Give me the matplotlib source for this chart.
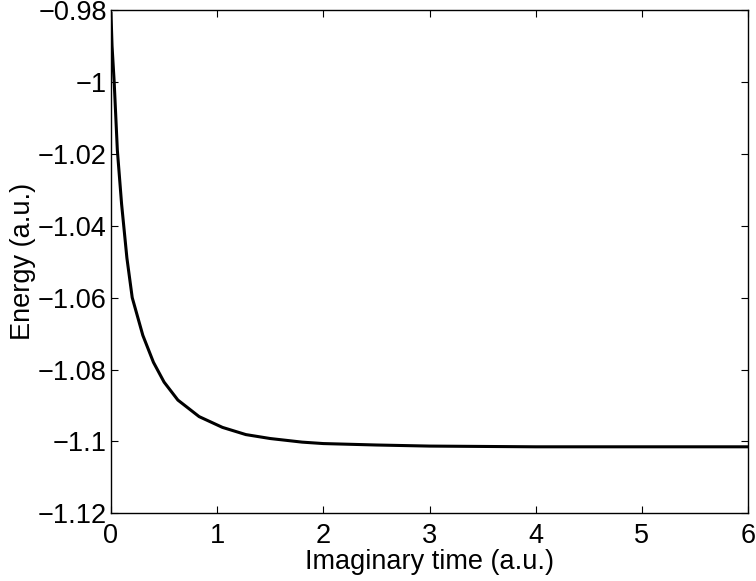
import matplotlib
matplotlib.use('Agg')
import matplotlib.pyplot as plt

# Imaginary-time propagation: energy vs imaginary time
time_au = [0.0, 0.01, 0.03, 0.06, 0.1, 0.15, 0.2, 0.3, 0.4, 0.5, 0.63, 0.83,
           1.05, 1.27, 1.5, 1.8, 2.0, 2.5, 3.0, 4.0, 5.0, 6.0]
energy_au = [-0.981, -0.99, -1.0, -1.019, -1.034, -1.049, -1.06, -1.0705,
             -1.078, -1.0835, -1.0885, -1.0931, -1.0961, -1.0981, -1.0992,
             -1.1002, -1.1006, -1.1010, -1.1013, -1.1015, -1.1015, -1.1015]

x_ticks = [0, 1, 2, 3, 4, 5, 6]
y_ticks = [-1.12, -1.1, -1.08, -1.06, -1.04, -1.02, -1.0, -0.98]
y_ticklabels = ['\u22121.12', '\u22121.1', '\u22121.08', '\u22121.06',
                '\u22121.04', '\u22121.02', '\u22121', '\u22120.98']

plt.rcParams['font.family'] = ['Liberation Sans', 'DejaVu Sans']

fig = plt.figure(figsize=(7.56, 5.81), dpi=100)
ax = fig.add_axes([0.1468, 0.1165, 0.8427, 0.8663])

ax.plot(time_au, energy_au, color='black', linewidth=2.2)

ax.set_xlim(0, 6)
ax.set_ylim(-1.12, -0.98)
ax.set_xticks(x_ticks)
ax.set_xticklabels([str(t) for t in x_ticks])
ax.set_yticks(y_ticks)
ax.set_yticklabels(y_ticklabels)

ax.tick_params(direction='in', length=5, width=0.8, top=True, right=True,
               labelsize=19.5, colors='black')
ax.tick_params(axis='x', pad=7)
ax.tick_params(axis='y', pad=3)
for s in ax.spines.values():
    s.set_linewidth(1.0)

ax.set_xlabel('Imaginary time (a.u.)', fontsize=19.5, labelpad=0)
ax.set_ylabel('Energy (a.u.)', fontsize=19.5, labelpad=1)

fig.savefig('out.png', dpi=100, facecolor='white')
